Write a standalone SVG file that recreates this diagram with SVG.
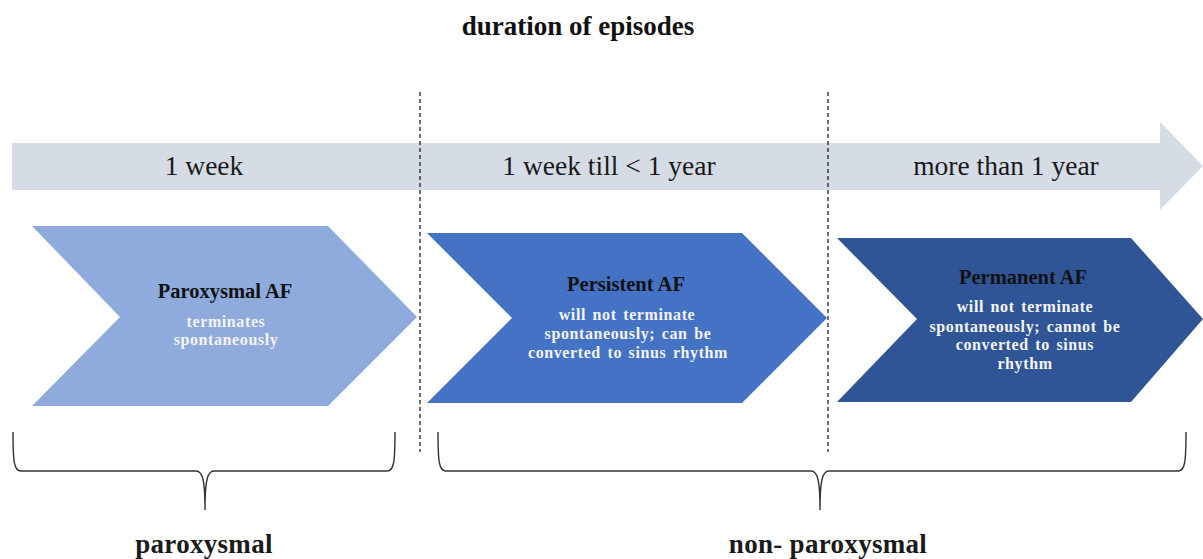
<svg xmlns="http://www.w3.org/2000/svg" width="1203" height="559" viewBox="0 0 1203 559">
<style>
.title{font-family:"Liberation Serif","Times New Roman",serif;font-weight:bold;font-size:27px;fill:#111;text-anchor:middle}
.dur{font-family:"Liberation Serif","Times New Roman",serif;font-size:27.5px;fill:#1a1a1a;text-anchor:middle}
.head{font-family:"Liberation Serif","Times New Roman",serif;font-weight:bold;font-size:20.5px;fill:#111;text-anchor:middle}
.sub{font-family:"Liberation Serif","Times New Roman",serif;font-weight:bold;font-size:16px;fill:#f4f4f4;text-anchor:middle;letter-spacing:0.6px;word-spacing:2px}
.lbl{font-family:"Liberation Serif","Times New Roman",serif;font-weight:bold;font-size:27px;fill:#1a1a1a;text-anchor:middle;letter-spacing:0.3px}
.dash{stroke:#111;stroke-width:1.2;stroke-dasharray:4 3;fill:none}
.brace{stroke:#333;stroke-width:1.4;fill:none}
</style>
<rect width="1203" height="559" fill="#ffffff"/>
<text class="title" x="578" y="35">duration of episodes</text>
<g id="timeline">
<polygon points="12,143 1160,143 1160,122 1203,166 1160,210 1160,190 12,190" fill="#D6DCE5"/>
<text class="dur" x="204" y="175">1 week</text>
<text class="dur" x="609" y="175">1 week till &lt; 1 year</text>
<text class="dur" x="1006" y="175">more than 1 year</text>
</g>
<g id="connectors">
<line class="dash" x1="420" y1="92" x2="420" y2="452"/>
<line class="dash" x1="828" y1="92" x2="828" y2="452"/>
<path class="brace" d="M13 432 C13 462 14 471 21 471 L196 471 C203 471 205 482 205 510 C205 482 207 471 214 471 L387 471 C394 471 395 462 395 432"/>
<path class="brace" d="M438 432 C438 462 439 471 446 471 L811 471 C818 471 820 482 820 510 C820 482 822 471 829 471 L1178 471 C1185 471 1186 462 1186 432"/>
</g>
<g id="paroxysmal-af">
<polygon points="32,226 328,226 417,317 328,406 32,406 120,317" fill="#8FAADC"/>
<text class="head" x="225" y="298">Paroxysmal AF</text>
<text class="sub" x="226" y="327">terminates</text>
<text class="sub" x="226" y="345">spontaneously</text>
</g>
<g id="persistent-af">
<polygon points="427,233 742,233 827,318 742,403 427,403 512,318" fill="#4472C4"/>
<text class="head" x="626" y="291">Persistent AF</text>
<text class="sub" x="627" y="320">will not terminate</text>
<text class="sub" x="628" y="339">spontaneously; can be</text>
<text class="sub" x="628" y="358">converted to sinus rhythm</text>
</g>
<g id="permanent-af">
<polygon points="837,238 1131,238 1203,319 1131,402 837,402 917,319" fill="#2F5597"/>
<text class="head" x="1023" y="284">Permanent AF</text>
<text class="sub" x="1025" y="312">will not terminate</text>
<text class="sub" x="1025" y="332">spontaneously; cannot be</text>
<text class="sub" x="1025" y="350">converted to sinus</text>
<text class="sub" x="1025" y="369">rhythm</text>
</g>
<g id="labels">
<text class="lbl" x="204" y="553">paroxysmal</text>
<text class="lbl" x="828" y="553">non- paroxysmal</text>
</g>
</svg>
